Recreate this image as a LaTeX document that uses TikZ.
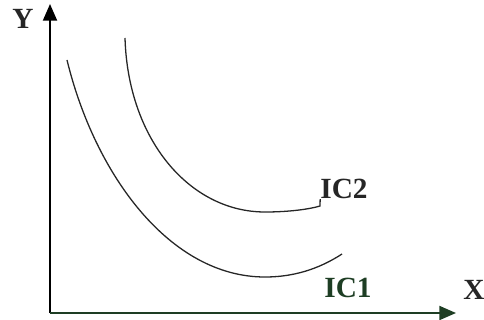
\documentclass[tikz,border=0pt]{standalone}
\usepackage{fontspec}
\setmainfont{Liberation Serif}
\usepackage{tikz}
\usetikzlibrary{arrows.meta}
\definecolor{darkgreen}{RGB}{30,62,36}
\tikzset{
axis/.style={line width=1.6pt, -{Triangle[length=0.5cm,width=0.42cm]}},
curve/.style={line width=1.1pt, black!85},
lbl/.style={font=\fontsize{25}{28}\selectfont\bfseries, inner sep=0pt, black!85}
}
\begin{document}
\begin{tikzpicture}[x=0.03cm, y=-0.03cm]
\useasboundingbox (0,0) rectangle (484,320);
\coordinate (O) at (50,313);
\coordinate (ytip) at (50,4);
\coordinate (xtip) at (456,313);
\node[lbl] (Y) at (23,19) {Y};
\node[lbl] (X) at (474,290) {X};
\node[lbl] (IC2) at (344,189) {IC2};
\node[lbl, darkgreen] (IC1) at (348,288) {IC1};
\draw[axis] (O) -- (ytip);
\draw[axis, darkgreen] (O) -- (xtip);
% indifference curves
\draw[curve] (67,60) .. controls (95,175) and (170,277) .. (265,277) .. controls (300,277) and (325,265) .. (342,254);
\draw[curve] (125,38) .. controls (128,140) and (190,212) .. (265,212) .. controls (290,212) and (310,209) .. (320,206) -- (IC2.south west);
\end{tikzpicture}
\end{document}
